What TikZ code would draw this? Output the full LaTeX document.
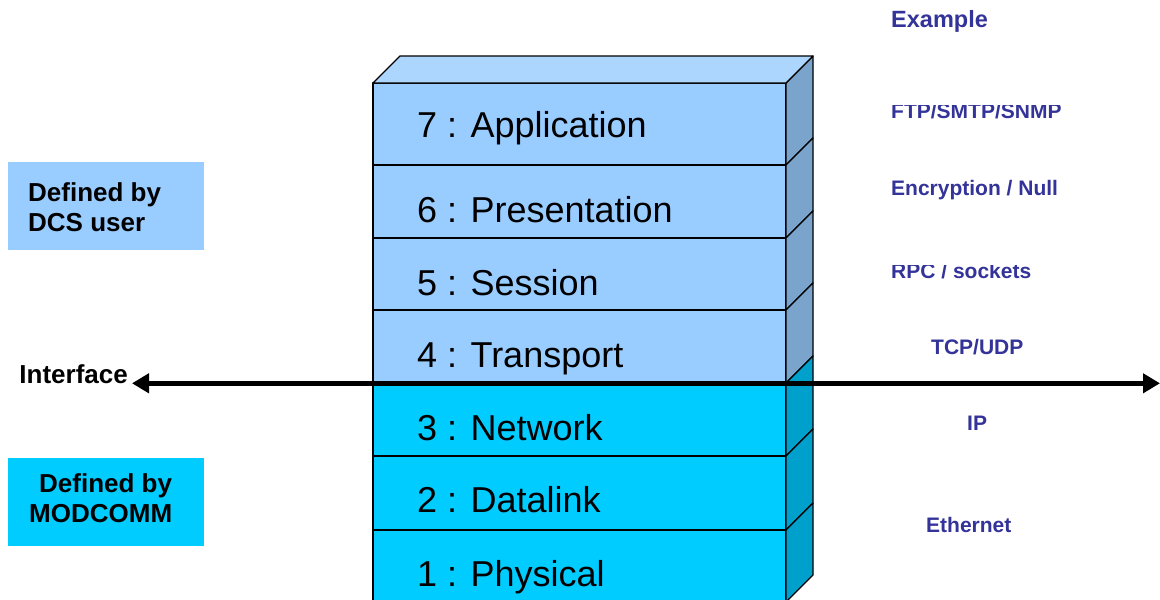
\documentclass[tikz,border=0pt]{standalone}
\usepackage{fontspec}
\setmainfont{Liberation Sans}
\usetikzlibrary{arrows.meta}
\definecolor{userfront}{HTML}{99CCFF}
\definecolor{usertop}{HTML}{ADD6FF}
\definecolor{userside}{HTML}{7BA4CC}
\definecolor{commfront}{HTML}{00CCFF}
\definecolor{commside}{HTML}{00A0CC}
\definecolor{navy}{HTML}{333399}
\begin{document}
\begin{tikzpicture}[x=1pt,y=-1pt,
  face/.style={draw=black,line width=1.3pt,line join=round},
  layertext/.style={anchor=base west,inner sep=0pt,font=\fontsize{36}{43}\selectfont},
  protocol/.style={anchor=base west,inner sep=0pt,text=navy,font=\bfseries\fontsize{21}{25}\selectfont},
  boxtext/.style={anchor=base west,inner sep=0pt,font=\bfseries\fontsize{26}{30}\selectfont},
  legendbox/.style={minimum width=196pt,minimum height=88pt,inner sep=0pt,draw=none}]
\useasboundingbox (0,0) rectangle (1160,600);

% protocol stack: front faces and right-hand side faces, top to bottom
\foreach \yt/\yb/\cf/\cs in {83/165/userfront/userside,165/238/userfront/userside,
    238/310/userfront/userside,310/383/userfront/userside,383/456/commfront/commside,
    456/530/commfront/commside,530/602/commfront/commside}{
  \filldraw[face,fill=\cf] (373,\yt) rectangle (786,\yb);
  \filldraw[face,fill=\cs] (786,\yt) -- (813,\yt-27) -- (813,\yb-27) -- (786,\yb) -- cycle;
}
% top face of the stack
\filldraw[face,fill=usertop] (373,83) -- (400,56) -- (813,56) -- (786,83) -- cycle;

% layer names
\node[layertext] (l7) at (417,137) {7 : Application};
\node[layertext] (l6) at (417,222) {6 : Presentation};
\node[layertext] (l5) at (417,295) {5 : Session};
\node[layertext] (l4) at (417,367) {4 : Transport};
\node[layertext] (l3) at (417,440) {3 : Network};
\node[layertext] (l2) at (417,512.5) {2 : Datalink};
\node[layertext] (l1) at (417,586) {1 : Physical};

% legend boxes
\node[legendbox,fill=userfront] (userbox) at (106,206) {};
\node[boxtext] (user1) at (28,201.5) {Defined by};
\node[boxtext] (user2) at (28,231.5) {DCS user};
\node[legendbox,fill=commfront] (commbox) at (106,502) {};
\node[boxtext] (comm1) at (39,492) {Defined by};
\node[boxtext] (comm2) at (29,522.7) {MODCOMM};

% example protocols per layer
\node[protocol,font=\bfseries\fontsize{23.5}{28}\selectfont] (ex) at (891,27) {Example};
\begin{scope}
  \clip (880,105.8) rectangle (1100,130);
  \node[protocol] (p7) at (891,118.3) {FTP/SMTP/SNMP};
\end{scope}
\node[protocol] (p6) at (891,195) {Encryption / Null};
\begin{scope}
  \clip (880,265) rectangle (1100,290);
  \node[protocol] (p5) at (891,278.3) {RPC / sockets};
\end{scope}
\node[protocol] (p4) at (931,354) {TCP/UDP};
\node[protocol] (p3) at (967,430) {IP};
\node[protocol] (p1) at (926,532) {Ethernet};

% interface line between the user and MODCOMM layers
\node[anchor=base east,inner ysep=0pt,inner xsep=4pt,font=\bfseries\fontsize{26}{30}\selectfont] (iface) at (132,383) {Interface};
\coordinate (ifaceend) at (1160,383.3);
\draw[line width=5pt,{Triangle[length=17pt,width=19pt]}-{Triangle[length=17pt,width=19pt]}]
  (iface.east |- ifaceend) -- (ifaceend);
\end{tikzpicture}
\end{document}
